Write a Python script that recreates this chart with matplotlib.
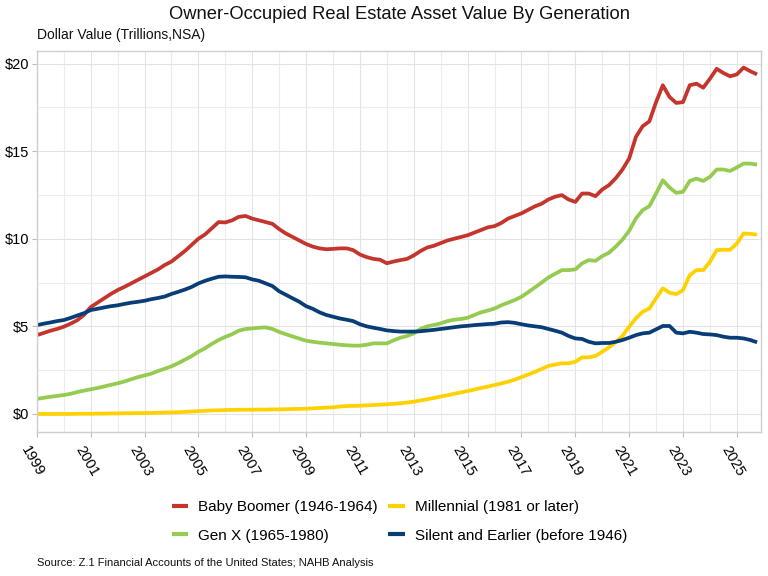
import numpy as np
import matplotlib
matplotlib.use('Agg')
import matplotlib.pyplot as plt
from matplotlib.transforms import ScaledTranslation

plt.rcParams['font.family'] = ['Liberation Sans', 'DejaVu Sans']

# quarterly values, 1999 Q1 .. 2025 Q4 (trillions of dollars)
start_year = 1999
baby_boomer = [
    4.50, 4.62, 4.75, 4.85,
    4.98, 5.15, 5.35, 5.65,
    6.10, 6.35, 6.60, 6.85,
    7.07, 7.25, 7.45, 7.65,
    7.85, 8.05, 8.25, 8.50,
    8.70, 9.00, 9.30, 9.65,
    10.00, 10.25, 10.60, 10.95,
    10.93, 11.05, 11.25, 11.30,
    11.15, 11.05, 10.95, 10.85,
    10.55, 10.30, 10.10, 9.90,
    9.70, 9.55, 9.45, 9.40,
    9.42, 9.45, 9.45, 9.35,
    9.10, 8.95, 8.85, 8.80,
    8.60, 8.70, 8.78, 8.85,
    9.05, 9.30, 9.50, 9.60,
    9.75, 9.90, 10.00, 10.10,
    10.20, 10.35, 10.50, 10.65,
    10.72, 10.90, 11.15, 11.30,
    11.45, 11.65, 11.85, 12.00,
    12.24, 12.40, 12.49, 12.24,
    12.10, 12.58, 12.58, 12.43,
    12.81, 13.06, 13.45, 13.95,
    14.58, 15.81, 16.42, 16.70,
    17.80, 18.76, 18.09, 17.75,
    17.80, 18.76, 18.85, 18.62,
    19.13, 19.70, 19.46, 19.27,
    19.38, 19.77, 19.56, 19.38,
]
gen_x = [
    0.86, 0.92, 0.98, 1.03,
    1.08, 1.15, 1.25, 1.33,
    1.41, 1.48, 1.57, 1.66,
    1.75, 1.85, 1.98, 2.10,
    2.20, 2.30, 2.45, 2.58,
    2.72, 2.90, 3.10, 3.30,
    3.55, 3.75, 4.00, 4.22,
    4.40, 4.55, 4.75, 4.85,
    4.88, 4.92, 4.94, 4.85,
    4.68, 4.55, 4.42, 4.30,
    4.18, 4.12, 4.07, 4.03,
    3.99, 3.95, 3.92, 3.90,
    3.90, 3.95, 4.03, 4.03,
    4.03, 4.20, 4.35, 4.45,
    4.60, 4.85, 5.00, 5.08,
    5.17, 5.30, 5.38, 5.42,
    5.49, 5.65, 5.80, 5.90,
    6.02, 6.20, 6.35, 6.50,
    6.69, 6.95, 7.22, 7.50,
    7.79, 8.00, 8.21, 8.21,
    8.25, 8.59, 8.78, 8.74,
    9.01, 9.20, 9.55, 9.95,
    10.45, 11.16, 11.63, 11.86,
    12.58, 13.34, 12.92, 12.62,
    12.68, 13.30, 13.43, 13.30,
    13.53, 13.95, 13.95, 13.87,
    14.07, 14.29, 14.29, 14.23,
]
millennial = [
    0.00, 0.00, 0.00, 0.00,
    0.00, 0.00, 0.01, 0.01,
    0.01, 0.02, 0.02, 0.03,
    0.03, 0.04, 0.04, 0.05,
    0.05, 0.06, 0.07, 0.08,
    0.09, 0.10, 0.12, 0.14,
    0.16, 0.18, 0.20, 0.21,
    0.22, 0.23, 0.24, 0.24,
    0.24, 0.25, 0.25, 0.26,
    0.26, 0.27, 0.28, 0.29,
    0.30, 0.32, 0.34, 0.36,
    0.38, 0.42, 0.45, 0.46,
    0.47, 0.49, 0.51, 0.53,
    0.55, 0.58, 0.61, 0.65,
    0.70, 0.77, 0.84, 0.91,
    0.99, 1.07, 1.15, 1.23,
    1.31, 1.39, 1.48, 1.56,
    1.65, 1.74, 1.84, 1.96,
    2.10, 2.25, 2.40, 2.57,
    2.74, 2.82, 2.89, 2.89,
    2.98, 3.23, 3.23, 3.31,
    3.55, 3.80, 4.10, 4.45,
    4.98, 5.46, 5.83, 6.02,
    6.60, 7.17, 6.92, 6.84,
    7.07, 7.92, 8.21, 8.21,
    8.68, 9.35, 9.37, 9.37,
    9.73, 10.30, 10.28, 10.24,
]
silent = [
    5.07, 5.15, 5.22, 5.30,
    5.36, 5.48, 5.62, 5.75,
    5.93, 6.00, 6.08, 6.15,
    6.20, 6.28, 6.35, 6.40,
    6.46, 6.55, 6.62, 6.70,
    6.85, 6.97, 7.10, 7.25,
    7.45, 7.60, 7.72, 7.83,
    7.85, 7.83, 7.82, 7.80,
    7.68, 7.60, 7.45, 7.30,
    7.00, 6.80, 6.60, 6.40,
    6.15, 6.00, 5.80, 5.65,
    5.55, 5.45, 5.38, 5.30,
    5.12, 5.00, 4.92, 4.85,
    4.77, 4.73, 4.70, 4.70,
    4.70, 4.72, 4.76, 4.80,
    4.85, 4.90, 4.95, 5.00,
    5.03, 5.07, 5.10, 5.13,
    5.15, 5.22, 5.24, 5.20,
    5.12, 5.05, 5.00, 4.95,
    4.85, 4.75, 4.64, 4.45,
    4.31, 4.28, 4.12, 4.03,
    4.05, 4.05, 4.12, 4.22,
    4.35, 4.50, 4.60, 4.64,
    4.83, 5.02, 5.02, 4.64,
    4.60, 4.69, 4.64, 4.56,
    4.54, 4.50, 4.41, 4.35,
    4.35, 4.31, 4.22, 4.09,
]

series = [
    ('Baby Boomer (1946-1964)', baby_boomer, '#C4352D'),
    ('Gen X (1965-1980)', gen_x, '#94CB50'),
    ('Millennial (1981 or later)', millennial, '#FFD100'),
    ('Silent and Earlier (before 1946)', silent, '#093D78'),
]

quarters = start_year + np.arange(len(baby_boomer)) * 0.25

fig = plt.figure(figsize=(7.68, 5.76), dpi=100)
ax = fig.add_axes([0.048, 0.25, 0.943, 0.661])

for name, vals, col in series:
    ax.plot(quarters, vals, color=col, lw=2.7, label=name, solid_capstyle='butt')

ax.set_xlim(1999, 2025.9)
ax.set_ylim(-1.03, 20.7)
ax.set_xticks(np.arange(1999, 2026, 2))
ax.set_xticks(np.arange(2000, 2026, 2), minor=True)
ax.set_yticks([0, 5, 10, 15, 20])
ax.set_yticks([2.5, 7.5, 12.5, 17.5], minor=True)
ax.set_yticklabels(['$0', '$5', '$10', '$15', '$20'])
ax.grid(True, which='major', color='#e3e3e3', lw=0.8)
ax.grid(True, which='minor', color='#ececec', lw=0.8)
ax.set_axisbelow(True)
for sp in ax.spines.values():
    sp.set_color('#cfcfcf')
    sp.set_linewidth(1.0)
ax.tick_params(axis='both', which='major', length=3.5, color='#bbbbbb', labelsize=10.5, pad=2)
ax.tick_params(axis='both', which='minor', length=0)
ax.tick_params(axis='x', pad=5)
for lab in ax.get_xticklabels():
    lab.set_rotation(-60)
    lab.set_ha('center')
    lab.set_va('top')
    lab.set_transform(lab.get_transform() + ScaledTranslation(-4 / 100, 0, fig.dpi_scale_trans))

fig.text(0.52, 0.975, 'Owner-Occupied Real Estate Asset Value By Generation',
         ha='center', va='center', fontsize=13.2, color='#111111')
fig.text(0.048, 0.939, 'Dollar Value (Trillions,NSA)', ha='left', va='center',
         fontsize=10, color='#111111')
fig.text(0.048, 0.023, 'Source: Z.1 Financial Accounts of the United States; NAHB Analysis',
         ha='left', va='center', fontsize=8, color='#111111')

h, l = ax.get_legend_handles_labels()
leg = fig.legend(h, l, ncol=2, loc='center', bbox_to_anchor=(0.52, 0.095), frameon=False,
                 fontsize=11, handlelength=1.1, handletextpad=0.65, columnspacing=0.65,
                 labelspacing=0.95)
for line in leg.get_lines():
    line.set_linewidth(3)

fig.savefig('out.png', dpi=100)
